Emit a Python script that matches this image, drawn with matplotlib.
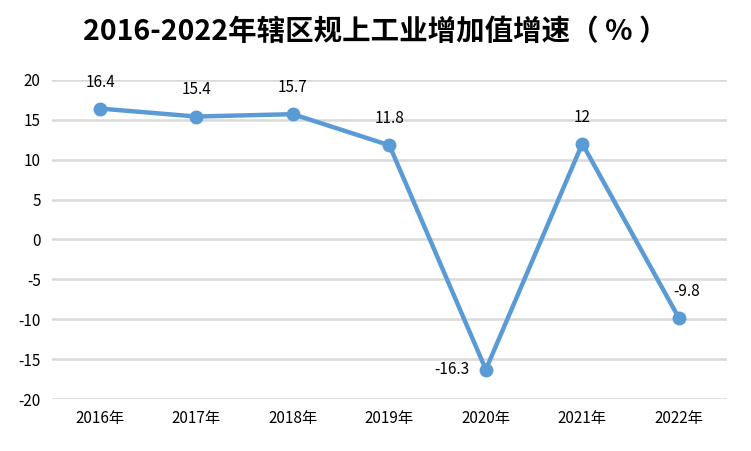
import matplotlib
matplotlib.use('Agg')
import matplotlib.pyplot as plt

plt.rcParams['font.family'] = ['Noto Sans CJK SC', 'DejaVu Sans']
plt.rcParams['axes.unicode_minus'] = False

# data
years = ['2016年', '2017年', '2018年', '2019年', '2020年', '2021年', '2022年']
growth = [16.4, 15.4, 15.7, 11.8, -16.3, 12, -9.8]
labels = ['16.4', '15.4', '15.7', '11.8', '-16.3', '12', '-9.8']

fig = plt.figure(figsize=(7.51, 4.51), dpi=100)
ax = fig.add_axes([0.069, 0.115, 0.899, 0.708])

x = list(range(len(years)))
ax.plot(x, growth, color='#5B9BD5', lw=3.2, marker='o', ms=9, zorder=3,
        solid_joinstyle='round')

for i, (v, t) in enumerate(zip(growth, labels)):
    if v == min(growth):
        ax.annotate(t, (i, v), xytext=(-12, 0), textcoords='offset points',
                    ha='right', va='center', fontsize=11)
    else:
        dx = 6 if t.startswith('-') else 0
        ax.annotate(t, (i, v), xytext=(dx, 13), textcoords='offset points',
                    ha='center', va='bottom', fontsize=11)

ax.set_xlim(-0.5, 6.5)
ax.set_ylim(-20, 20)
ax.set_yticks(range(-20, 21, 5))
ax.set_xticks(x)
ax.set_xticklabels(years)
ax.grid(axis='y', color='#D9D9D9', lw=1.8)
ax.set_axisbelow(True)
for s in ax.spines.values():
    s.set_visible(False)
ax.tick_params(length=0, labelsize=11, pad=8)

fig.text(0.5, 0.93, '2016-2022年辖区规上工业增加值增速（ % ）', ha='center', va='center',
         fontsize=20.5, fontweight='bold')

fig.savefig('out.png', dpi=100)
